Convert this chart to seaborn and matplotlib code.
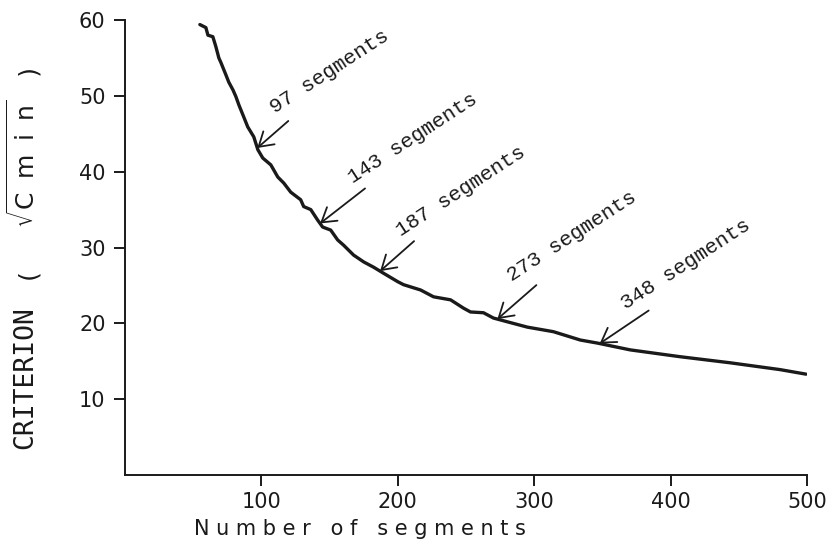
"""
Criterion vs number of segments, with the selected segmentations marked.
"""

import numpy as np
import matplotlib
matplotlib.use("Agg")
import matplotlib.pyplot as plt
import seaborn as sns

# Curve
n_segments = [54.9, 59.3, 60.8, 64.4, 66.6, 68.8, 70.3, 73.9, 76.1, 79.1,
              81.3, 83.5, 87.1, 90.0, 94.4, 97.4, 101.0, 106.9, 112.0, 116.4,
              121.5, 128.8, 131.0, 136.2, 141.3, 144.9, 150.8, 155.9, 160.3, 167.6,
              175.0, 182.3, 189.6, 199.9, 204.2, 216.7, 226.2, 238.7, 248.2, 253.3,
              262.8, 270.1, 280.4, 295.0, 314.1, 333.8, 346.3, 370.4, 407.0, 443.6,
              480.2, 499.3]
criterion = [59.4, 59.0, 58.0, 57.8, 56.5, 55.0, 54.4, 52.8, 51.8, 50.8,
             49.9, 48.8, 47.2, 45.9, 44.6, 42.9, 41.8, 40.9, 39.3, 38.5,
             37.3, 36.3, 35.4, 35.0, 33.6, 32.7, 32.3, 31.0, 30.3, 29.0,
             28.1, 27.4, 26.6, 25.5, 25.1, 24.4, 23.5, 23.1, 22.0, 21.5,
             21.4, 20.7, 20.2, 19.5, 18.9, 17.8, 17.4, 16.5, 15.6, 14.8,
             13.9, 13.3]

# Marked segmentations
marked = [97, 143, 187, 273, 348]

x_ticks = [100, 200, 300, 400, 500]
y_ticks = [10, 20, 30, 40, 50, 60]

sns.set_style("ticks")
plt.rcParams['font.family'] = ['DejaVu Sans']
ink = '#1a1a1a'

fig = plt.figure(figsize=(8.3, 5.47), dpi=100)
ax = fig.add_axes([0.1506, 0.1316, 0.8217, 0.8318])

sns.lineplot(x=n_segments, y=criterion, ax=ax, color=ink, linewidth=2.4,
             sort=False)

ax.set_xlim(0, 500)
ax.set_ylim(0, 60)
ax.set_xticks(x_ticks)
ax.set_yticks(y_ticks)
ax.tick_params(direction='out', length=8, width=1.4, color=ink,
               labelsize=15, labelcolor=ink)
ax.tick_params(axis='x', pad=4)
ax.tick_params(axis='y', pad=6)
for side in ['top', 'right']:
    ax.spines[side].set_visible(False)
for side in ['left', 'bottom']:
    ax.spines[side].set_linewidth(1.4)
    ax.spines[side].set_color(ink)
ax.set_xlabel('')
ax.set_ylabel('')

# arrow tail and text start, relative to the arrow tip (pixels)
tails = [(31, 27), (45, 35), (34, 30), (39, 34), (49, 33)]
text_starts = [(18, 34), (33, 40), (21, 34), (14, 37), (26, 34)]
mono = ['Liberation Mono', 'DejaVu Sans Mono']

for n, tail, start in zip(marked, tails, text_starts):
    tip_y = np.interp(n, n_segments, criterion)
    ax.annotate('', xy=(n, tip_y), xytext=tail, textcoords='offset pixels',
                arrowprops=dict(arrowstyle='->,head_length=0.45,head_width=0.28',
                                lw=1.3, color=ink, mutation_scale=22,
                                shrinkA=0, shrinkB=0))
    ax.annotate(f'{n} segments', xy=(n, tip_y), xytext=start,
                textcoords='offset pixels', rotation=33, rotation_mode='anchor',
                ha='left', va='baseline', fontsize=15, family=mono, color=ink)

fig.text(0.4337, 0.033, 'N u m b e r   o f   s e g m e n t s', ha='center',
         va='center', fontsize=15, color=ink)

# y label, set piece by piece like the plotter did
fig.text(0.031, 0.309, 'CRITERION', rotation=90, ha='center', va='center',
         fontsize=19, family=['DejaVu Sans Mono'], color=ink)
fig.text(0.031, 0.503, '(', rotation=90, ha='center', va='center',
         fontsize=18, family=['DejaVu Sans Mono'], color=ink)
fig.text(0.029, 0.700, r'$\sqrt{\mathrm{C}\;\;\mathrm{m}\;\;\mathrm{i}\;\;\mathrm{n}}$',
         rotation=90, ha='center', va='center', fontsize=18, color=ink)
fig.text(0.031, 0.876, ')', rotation=90, ha='center', va='center',
         fontsize=18, family=['DejaVu Sans Mono'], color=ink)

fig.savefig('out.png', dpi=100)
